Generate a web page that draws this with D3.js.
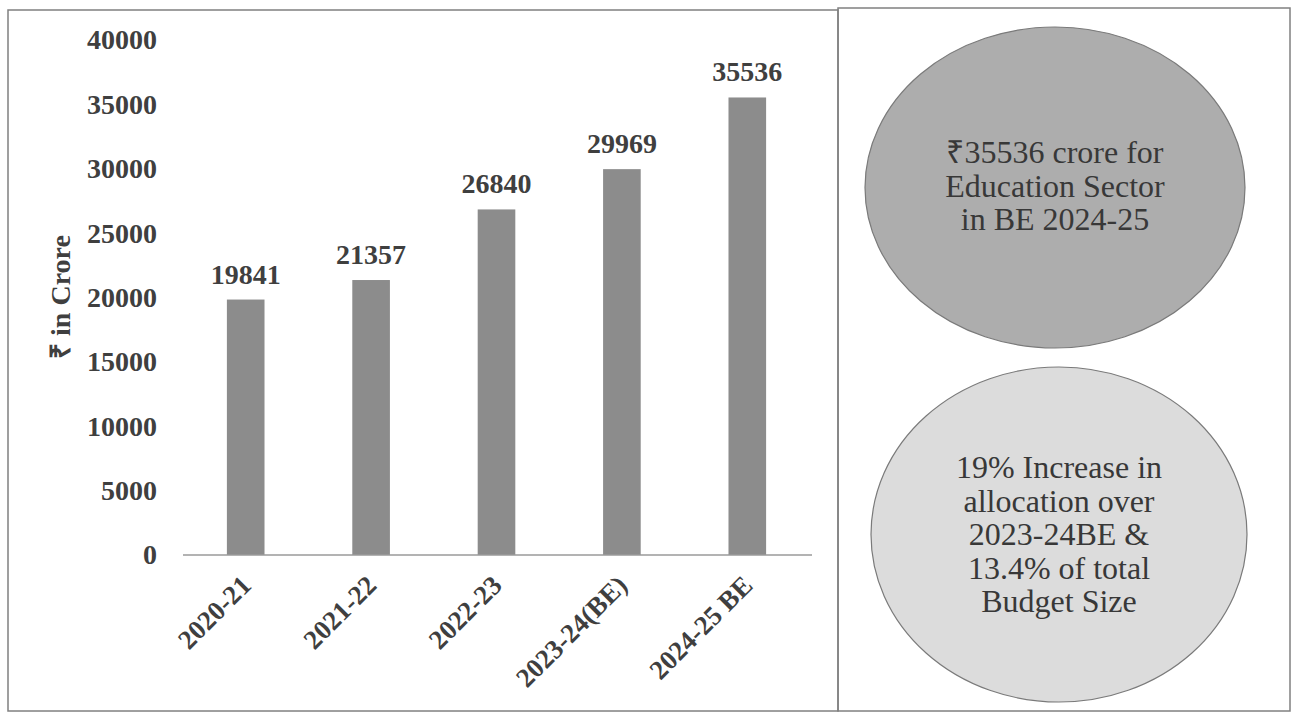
<!DOCTYPE html>
<html>
<head>
<meta charset="utf-8">
<script src="https://cdn.jsdelivr.net/npm/d3@7"></script>
<style>
  body { margin: 0; background: #fff; }
  svg { display: block; }
  text { font-family: "Liberation Serif", "Times New Roman", serif; }
</style>
</head>
<body>
<div id="chart"></div>
<script>
const years = ["2020-21", "2021-22", "2022-23", "2023-24(BE)", "2024-25 BE"];
const allocation = [19841, 21357, 26840, 29969, 35536];
const yTicks = [0, 5000, 10000, 15000, 20000, 25000, 30000, 35000, 40000];
const topNote = ["\u20B935536 crore for", "Education Sector", "in BE 2024-25"];
const bottomNote = ["19% Increase in", "allocation over", "2023-24BE &", "13.4% of total", "Budget Size"];

const width = 1299, height = 713;
const textColor = "#3f3f3f";

const svg = d3.select("#chart").append("svg")
    .attr("width", width)
    .attr("height", height);

// panel frames
svg.append("rect")
    .attr("x", 8).attr("y", 10)
    .attr("width", 830).attr("height", 701)
    .attr("fill", "none")
    .attr("stroke", "#808080")
    .attr("stroke-width", 1.5);

svg.append("rect")
    .attr("x", 838).attr("y", 8)
    .attr("width", 452).attr("height", 703)
    .attr("fill", "none")
    .attr("stroke", "#808080")
    .attr("stroke-width", 1.5);

// scales
const x = d3.scaleBand()
    .domain(years)
    .range([183, 810])
    .paddingInner(0.7)
    .paddingOuter(0.35);

const y = d3.scaleLinear()
    .domain([0, 40000])
    .range([555, 40]);

// y axis labels (no line)
const yAxis = svg.append("g")
    .attr("transform", "translate(157,0)")
    .call(d3.axisLeft(y).tickValues(yTicks).tickSize(0).tickPadding(0).tickFormat(d3.format("d")));
yAxis.select(".domain").remove();
yAxis.selectAll("text")
    .attr("fill", textColor)
    .style("font-size", "28px")
    .style("font-weight", "bold")
    .style("font-family", "'Liberation Serif', serif");

// y axis title
svg.append("text")
    .attr("transform", "translate(70,297) rotate(-90)")
    .attr("text-anchor", "middle")
    .attr("fill", textColor)
    .style("font-size", "28px")
    .style("font-weight", "bold")
    .text("\u20B9 in Crore");

// bars
svg.selectAll(".bar")
    .data(allocation)
    .enter()
    .append("rect")
    .attr("class", "bar")
    .attr("x", (d, i) => x(years[i]))
    .attr("y", d => y(d))
    .attr("width", x.bandwidth())
    .attr("height", d => y(0) - y(d))
    .attr("fill", "#8c8c8c");

// value labels
svg.selectAll(".val")
    .data(allocation)
    .enter()
    .append("text")
    .attr("class", "val")
    .attr("x", (d, i) => x(years[i]) + x.bandwidth() / 2)
    .attr("y", d => y(d) - 16)
    .attr("text-anchor", "middle")
    .attr("fill", textColor)
    .style("font-size", "28px")
    .style("font-weight", "bold")
    .text(d => d);

// x axis
const xAxis = svg.append("g")
    .attr("transform", `translate(0,${y(0)})`)
    .call(d3.axisBottom(x).tickSize(0).tickPadding(0));
xAxis.select(".domain")
    .attr("d", "M183,0H812")
    .attr("stroke", "#9a9a9a")
    .attr("stroke-width", 1.5);
xAxis.selectAll("text")
    .attr("fill", textColor)
    .attr("text-anchor", "end")
    .attr("dy", 0)
    .attr("y", 0)
    .attr("transform", "translate(7,32) rotate(-45)")
    .style("font-size", "27px")
    .style("font-weight", "bold")
    .style("font-family", "'Liberation Serif', serif");

// note ellipses
const notes = [
    { lines: topNote, cx: 1055, cy: 187.5, rx: 190, ry: 160.5, fill: "#adadad", firstBase: 163 },
    { lines: bottomNote, cx: 1059, cy: 534.5, rx: 188, ry: 167.5, fill: "#dcdcdc", firstBase: 478 }
];

notes.forEach(n => {
    svg.append("ellipse")
        .attr("cx", n.cx).attr("cy", n.cy)
        .attr("rx", n.rx).attr("ry", n.ry)
        .attr("fill", n.fill)
        .attr("stroke", "#7a7a7a")
        .attr("stroke-width", 1.2);

    svg.append("g").selectAll("text")
        .data(n.lines)
        .enter()
        .append("text")
        .attr("x", n.cx)
        .attr("y", (d, i) => n.firstBase + i * 33.5)
        .attr("text-anchor", "middle")
        .attr("fill", "#383838")
        .style("font-size", "32px")
        .text(d => d);
});
</script>
</body>
</html>
